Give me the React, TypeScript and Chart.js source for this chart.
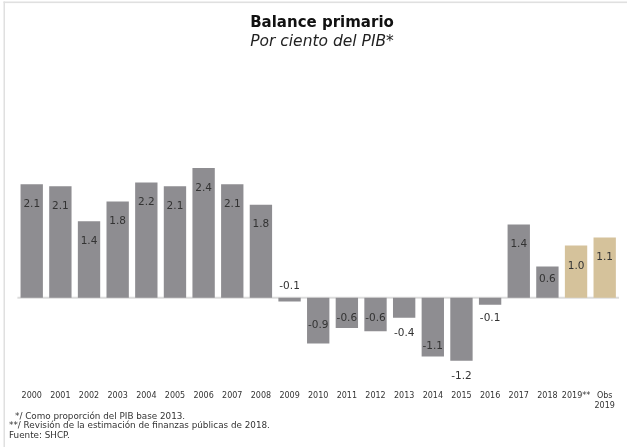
import React, { useEffect, useRef } from "react";
import { Chart, registerables } from "chart.js";

Chart.register(...registerables);

// ---------- data ----------
const categories: (string | string[])[] = [
  "2000", "2001", "2002", "2003", "2004", "2005", "2006", "2007", "2008", "2009",
  "2010", "2011", "2012", "2013", "2014", "2015", "2016", "2017", "2018", "2019**",
  ["Obs", "2019"],
];
const balanceValues = [
  2.11, 2.07, 1.42, 1.79, 2.14, 2.07, 2.41, 2.11, 1.73, -0.07,
  -0.85, -0.56, -0.62, -0.37, -1.09, -1.17, -0.13, 1.36, 0.58, 0.97,
  1.12,
];
const valueLabels = [
  "2.1", "2.1", "1.4", "1.8", "2.2", "2.1", "2.4", "2.1", "1.8", "-0.1",
  "-0.9", "-0.6", "-0.6", "-0.4", "-1.1", "-1.2", "-0.1", "1.4", "0.6", "1.0",
  "1.1",
];
const titleText = "Balance primario";
const subtitleText = "Por ciento del PIB*";
const footnotes = [
  "*/ Como proporción del PIB base 2013.",
  "**/ Revisión de la estimación de finanzas públicas de 2018.",
  "Fuente: SHCP.",
];

// ---------- styling ----------
const FONT = "'DejaVu Sans', sans-serif";
const GRAY = "#8e8d91";
const TAN = "#d5c29b";
const LINE = "#dcdcdc";
const TEXT = "#333333";
// label centre distance from bar end, measured toward the zero line (px)
const labelInset = [20, 20, 20, 20, 20, 20, 20, 20, 20, 15, 18, 10, 13, -16, 10, -16, -14, 19.5, 12.5, 21, 20];

const decorPlugin = {
  id: "decor",
  beforeDatasetsDraw(chart: any) {
    const { ctx, chartArea, scales } = chart;
    const y0 = scales.y.getPixelForValue(0);
    ctx.save();
    ctx.strokeStyle = LINE;
    ctx.lineWidth = 1.8;
    ctx.beginPath();
    ctx.moveTo(chartArea.left, y0);
    ctx.lineTo(chartArea.right, y0);
    ctx.stroke();
    ctx.restore();
  },
  afterDatasetsDraw(chart: any) {
    const { ctx } = chart;
    const meta = chart.getDatasetMeta(0);
    ctx.save();
    ctx.font = `10.5px ${FONT}`;
    ctx.fillStyle = TEXT;
    ctx.textAlign = "center";
    ctx.textBaseline = "middle";
    meta.data.forEach((el: any, i: number) => {
      const v = balanceValues[i];
      const dir = v >= 0 ? 1 : -1;
      ctx.fillText(valueLabels[i], el.x, el.y + dir * labelInset[i]);
    });
    ctx.restore();
  },
  afterDraw(chart: any) {
    const { ctx, width, height } = chart;
    ctx.save();
    // frame
    ctx.fillStyle = "#e0e0e0";
    ctx.fillRect(3.5, 1.5, width - 3.5, 1.6);
    ctx.fillRect(3.5, 1.5, 1.5, height - 1.5);
    // title
    ctx.fillStyle = "#111111";
    ctx.textAlign = "center";
    ctx.textBaseline = "alphabetic";
    ctx.font = `bold 15px ${FONT}`;
    ctx.fillText(titleText, 322, 26.5);
    ctx.fillStyle = "#222222";
    ctx.font = `oblique 15.5px ${FONT}`;
    ctx.fillText(subtitleText, 322, 45.5);
    // footnotes
    ctx.fillStyle = TEXT;
    ctx.textAlign = "left";
    ctx.textBaseline = "middle";
    ctx.font = `8.8px ${FONT}`;
    const ys = [416.5, 426, 436];
    footnotes.forEach((t, i) => {
      ctx.fillText(t, i === 0 ? 15 : 9, ys[i]);
    });
    ctx.restore();
  },
};

export default function App() {
  const canvasRef = useRef<HTMLCanvasElement | null>(null);

  useEffect(() => {
    if (!canvasRef.current) return;
    const n = categories.length;
    const chart = new Chart(canvasRef.current, {
      type: "bar",
      data: {
        labels: categories as any,
        datasets: [
          {
            data: balanceValues,
            backgroundColor: categories.map((_, i) => (i >= n - 2 ? TAN : GRAY)),
            borderWidth: 0,
            barPercentage: 0.78,
            categoryPercentage: 1,
          },
        ],
      },
      options: {
        animation: false,
        responsive: false,
        devicePixelRatio: 1,
        layout: { padding: { top: 136.3, left: 17.4, right: 5.1, bottom: 23.7 } },
        plugins: {
          legend: { display: false },
          tooltip: { enabled: false },
          title: { display: false },
        },
        scales: {
          x: {
            grid: { display: false, drawTicks: false },
            border: { display: false },
            ticks: {
              color: TEXT,
              font: { family: FONT, size: 8, lineHeight: 1.3 },
              padding: 12,
              maxRotation: 0,
              autoSkip: false,
            },
          },
          y: {
            display: false,
            min: -1.5,
            max: 3,
          },
        },
      },
      plugins: [decorPlugin],
    });
    return () => chart.destroy();
  }, []);

  return (
    <div style={{ position: "absolute", left: 0, top: 0, width: 627, height: 447, background: "#fff" }}>
      <canvas ref={canvasRef} width={627} height={447} style={{ width: 627, height: 447, display: "block" }} />
    </div>
  );
}
